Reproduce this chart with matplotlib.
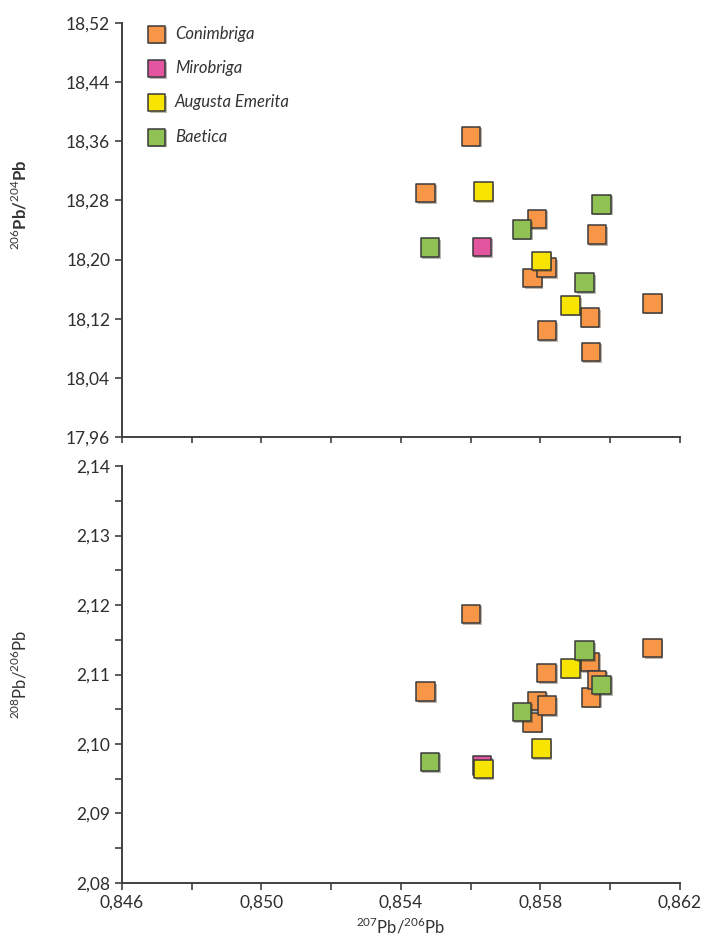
import matplotlib as mpl
import matplotlib.pyplot as plt
import matplotlib.patheffects as pe
from matplotlib.ticker import FuncFormatter

# data (x = 207Pb/206Pb, y1 = 206Pb/204Pb, y2 = 208Pb/206Pb)
con_x = [0.85471, 0.85601, 0.85777, 0.85790, 0.85819, 0.85818, 0.85942, 0.85945, 0.85962, 0.86121]
con_y1 = [18.290, 18.367, 18.175, 18.255, 18.104, 18.189, 18.122, 18.075, 18.234, 18.141]
con_y2 = [2.1075, 2.1187, 2.1031, 2.1062, 2.1055, 2.1102, 2.1118, 2.1067, 2.1092, 2.1138]

mir_x = [0.85632]
mir_y1 = [18.217]
mir_y2 = [2.0969]

aug_x = [0.85636, 0.85802, 0.85886]
aug_y1 = [18.292, 18.198, 18.138]
aug_y2 = [2.0964, 2.0993, 2.1109]

bae_x = [0.85483, 0.85747, 0.85927, 0.85976]
bae_y1 = [18.216, 18.241, 18.169, 18.275]
bae_y2 = [2.0974, 2.1046, 2.1134, 2.1085]

names = ['Conimbriga', 'Mirobriga', 'Augusta Emerita', 'Baetica']
colors = ['#F79646', '#E4559F', '#F7E400', '#8FC253']

x_ticks = [0.846, 0.850, 0.854, 0.858, 0.862]
x_minor = [0.848, 0.852, 0.856, 0.860]
y1_ticks = [17.96, 18.04, 18.12, 18.20, 18.28, 18.36, 18.44, 18.52]
y2_ticks = [2.08, 2.09, 2.10, 2.11, 2.12, 2.13, 2.14]
y2_minor = [2.085, 2.095, 2.105, 2.115, 2.125, 2.135]

mpl.rcParams.update({'font.family': ['Lato', 'DejaVu Sans'], 'font.size': 12,
                     'mathtext.fontset': 'custom', 'mathtext.rm': 'Lato'})

dpi = 100
fig = plt.figure(dpi=dpi, figsize=(705 / dpi, 947 / dpi))
ax1 = fig.add_axes([0.1730, 0.5385, 0.7915, 0.4372])
ax2 = fig.add_axes([0.1730, 0.0676, 0.7915, 0.4403])

series = [(con_x, con_y1, con_y2), (mir_x, mir_y1, mir_y2),
          (aug_x, aug_y1, aug_y2), (bae_x, bae_y1, bae_y2)]
shadow = [pe.SimplePatchShadow(offset=(1.2, -1.2), alpha=0.35), pe.Normal()]

for i, (xs, y1, y2) in enumerate(series):
    for ax, ys in ((ax1, y1), (ax2, y2)):
        ax.scatter(xs, ys, s=13.5 ** 2, marker='s', color=colors[i],
                   edgecolors='#3a3a3a', linewidths=1.1, zorder=3 + i,
                   label=names[i], path_effects=shadow)

comma = lambda nd: FuncFormatter(lambda v, p: ('%.*f' % (nd, v)).replace('.', ','))

for ax in (ax1, ax2):
    ax.set_xlim(0.846, 0.862)
    for s in ('top', 'right'):
        ax.spines[s].set_visible(False)
    for s in ('left', 'bottom'):
        ax.spines[s].set_color('#404040')
        ax.spines[s].set_linewidth(1.4)
    ax.tick_params(which='both', direction='out', color='#404040', width=1.2,
                   labelsize=12.5, labelcolor='#2e2e2e')
    ax.set_xticks(x_ticks)
    ax.set_xticks(x_minor, minor=True)
    ax.xaxis.set_major_formatter(comma(3))

ax1.set_ylim(17.96, 18.52)
ax1.set_yticks(y1_ticks)
ax1.yaxis.set_major_formatter(comma(2))
ax1.tick_params(axis='y', length=5)
ax1.tick_params(axis='x', which='both', length=4, labelbottom=False)

ax2.set_ylim(2.08, 2.14)
ax2.set_yticks(y2_ticks)
ax2.set_yticks(y2_minor, minor=True)
ax2.yaxis.set_major_formatter(comma(2))
ax2.tick_params(which='both', length=5)

ax1.set_ylabel('$^{206}$Pb/$^{204}$Pb', fontsize=12, fontweight='bold', color='#333333')
ax1.yaxis.set_label_coords(-0.165, 0.56)
ax2.set_ylabel('$^{208}$Pb/$^{206}$Pb', fontsize=12, color='#333333')
ax2.yaxis.set_label_coords(-0.165, 0.5)
ax2.set_xlabel('$^{207}$Pb/$^{206}$Pb', fontsize=12, color='#333333', labelpad=4)

leg = ax1.legend(loc='upper left', bbox_to_anchor=(0.005, 1.03), frameon=False,
                 prop={'style': 'italic', 'size': 12}, markerscale=0.9,
                 handletextpad=0.1, labelspacing=1.1, scatterpoints=1)
for t in leg.get_texts():
    t.set_color('#333333')

fig.savefig('out.png')
